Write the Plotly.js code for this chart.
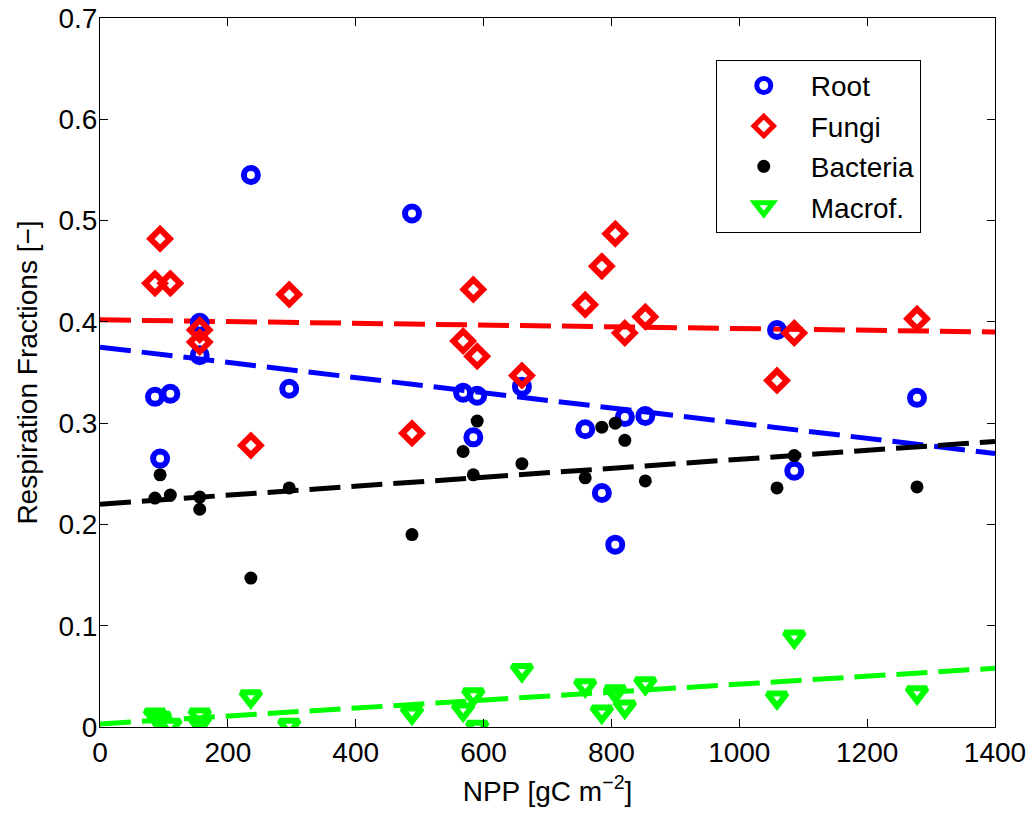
<!DOCTYPE html>
<html>
<head>
<meta charset="utf-8">
<script src="https://cdn.plot.ly/plotly-3.0.1.min.js"></script>
<style>html,body{margin:0;padding:0;background:#fff;}#chart{width:1035px;height:816px;}</style>
</head>
<body>
<div id="chart"></div>
<script>
// Site NPP values [gC m^-2]
const npp = [86, 94, 110, 156, 156, 236, 296, 488, 568, 584, 590, 660, 759, 785, 806, 821, 853, 1059, 1086, 1278];
// Respiration fractions per site
const rootFrac     = [0.326, 0.265, 0.329, 0.399, 0.367, 0.545, 0.334, 0.507, 0.330, 0.286, 0.327, 0.336, 0.294, 0.231, 0.180, 0.306, 0.307, 0.392, 0.253, 0.325];
const fungiFrac    = [0.438, 0.482, 0.438, 0.392, 0.380, 0.278, 0.427, 0.290, 0.381, 0.432, 0.366, 0.347, 0.417, 0.455, 0.487, 0.389, 0.405, 0.342, 0.389, 0.403];
const bacteriaFrac = [0.226, 0.249, 0.229, 0.227, 0.215, 0.147, 0.236, 0.190, 0.272, 0.249, 0.302, 0.260, 0.246, 0.296, 0.300, 0.283, 0.243, 0.236, 0.268, 0.237];
const macrofFrac   = [0.012, 0.009, 0.002, 0.012, 0.004, 0.030, 0.002, 0.014, 0.017, 0.032, 0.000, 0.056, 0.041, 0.015, 0.035, 0.020, 0.043, 0.029, 0.089, 0.034];
// Linear fit lines (end points)
const fitX         = [0, 1400];
const rootFit      = [0.375, 0.270];
const fungiFit     = [0.402, 0.390];
const bacteriaFit  = [0.220, 0.282];
const macrofFit    = [0.003, 0.058];
const seriesNames  = ['Root', 'Fungi', 'Bacteria', 'Macrof.'];

const dashStyle = '31px,11px';
const fitLine = (y, color) => ({
  x: fitX, y: y, mode: 'lines', showlegend: false, hoverinfo: 'skip',
  line: {color: color, width: 5, dash: dashStyle}
});

const data = [
  fitLine(rootFit, '#0000ff'),
  fitLine(fungiFit, '#ff0000'),
  fitLine(bacteriaFit, '#000000'),
  fitLine(macrofFit, '#00ff00'),
  {x: npp, y: rootFrac, name: seriesNames[0], mode: 'markers', legendgroup: 'a',
   marker: {symbol: 'circle-open', size: 14, color: '#0000ff', line: {width: 6, color: '#0000ff'}}},
  {x: npp, y: fungiFrac, name: seriesNames[1], mode: 'markers', legendgroup: 'b',
   marker: {symbol: 'diamond-open', size: 15, color: '#ff0000', line: {width: 6, color: '#ff0000'}}},
  {x: npp, y: bacteriaFrac, name: seriesNames[2], mode: 'markers', legendgroup: 'c',
   marker: {symbol: 'circle', size: 13, color: '#000000'}},
  {x: npp, y: macrofFrac, name: seriesNames[3], mode: 'markers', legendgroup: 'd',
   marker: {symbol: 'triangle-down-open', size: 17, color: '#00ff00', line: {width: 6, color: '#00ff00'}}}
];

const fontFam = 'Liberation Sans, Arial, Helvetica, sans-serif';
const layout = {
  width: 1035, height: 816,
  margin: {l: 100, r: 40, t: 18, b: 89},
  paper_bgcolor: '#fff', plot_bgcolor: '#fff',
  font: {family: fontFam, size: 28, color: '#000'},
  showlegend: true,
  legend: {
    x: 0.688, y: 0.941, xanchor: 'left', yanchor: 'top',
    bordercolor: '#000', borderwidth: 1, bgcolor: '#fff',
    font: {family: fontFam, size: 28, color: '#000'},
    traceorder: 'grouped', tracegroupgap: 1, itemwidth: 84
  },
  xaxis: {
    range: [0, 1400], dtick: 200, tick0: 0,
    showline: true, linecolor: '#000', linewidth: 1, mirror: 'ticks',
    ticks: 'inside', ticklen: 8, tickcolor: '#000', showgrid: false, zeroline: false,
    tickfont: {size: 28},
    title: {text: 'NPP [gC m<sup>−2</sup>]', font: {size: 28}, standoff: 14}
  },
  yaxis: {
    range: [0, 0.7], dtick: 0.1, tick0: 0,
    showline: true, linecolor: '#000', linewidth: 1, mirror: 'ticks',
    ticks: 'inside', ticklen: 8, tickcolor: '#000', showgrid: false, zeroline: false,
    tickfont: {size: 28}, ticklabelstandoff: -4,
    title: {text: 'Respiration Fractions [−]', font: {size: 28}, standoff: 12}
  }
};

Plotly.newPlot('chart', data, layout, {displayModeBar: false, staticPlot: true});
</script>
</body>
</html>
